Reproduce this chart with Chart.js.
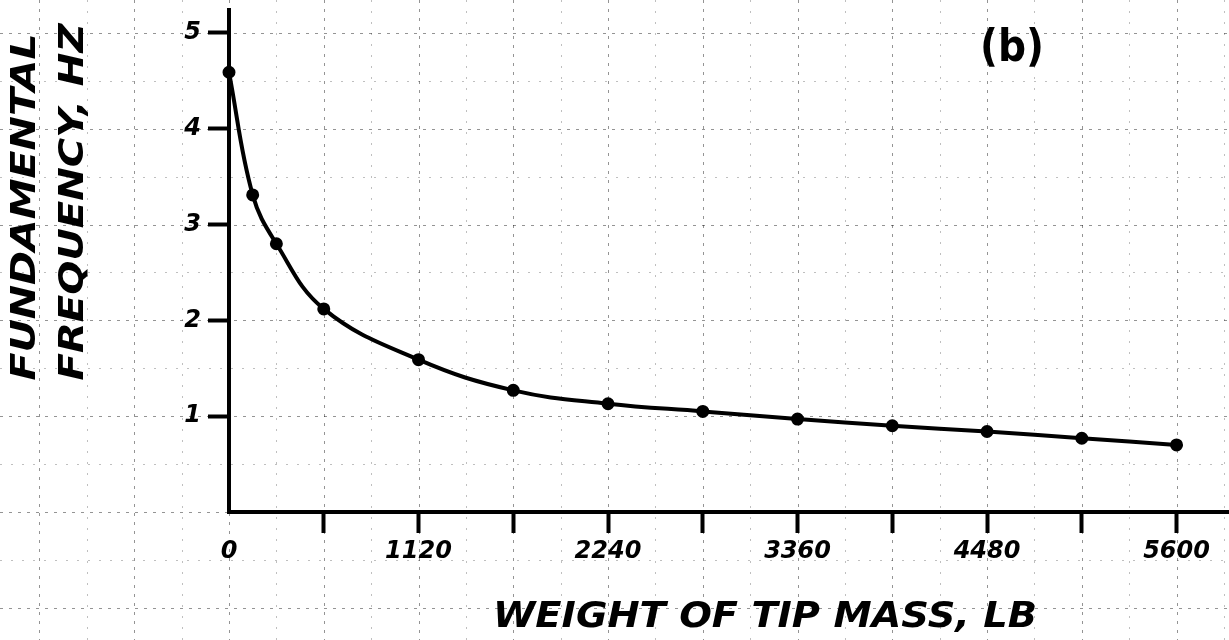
<!DOCTYPE html>
<html>
<head>
<meta charset="utf-8">
<script src="https://cdn.jsdelivr.net/npm/chart.js@4/dist/chart.umd.min.js"></script>
<style>
  html, body { margin: 0; padding: 0; background: #ffffff; }
  #wrap { width: 1229px; height: 640px; position: relative; }
</style>
</head>
<body>
<div id="wrap"><canvas id="c"></canvas></div>
<script>
// ---- data ----
const tipMassLb = [0, 140, 280, 560, 1120, 1680, 2240, 2800, 3360, 3920, 4480, 5040, 5600];
const frequencyHz = [4.59, 3.31, 2.80, 2.12, 1.59, 1.27, 1.13, 1.05, 0.97, 0.90, 0.84, 0.77, 0.70];
const xTickValues = [0, 560, 1120, 1680, 2240, 2800, 3360, 3920, 4480, 5040, 5600];
const xTickLabels = ['0', '1120', '2240', '3360', '4480', '5600'];
const yTickValues = [0, 1, 2, 3, 4, 5];
const yTickLabels = ['1', '2', '3', '4', '5'];
const yTitleLines = ['FUNDAMENTAL', 'FREQUENCY, HZ'];
const xTitleText = 'WEIGHT OF TIP MASS, LB';
const panelLabel = '(b)';

const points = tipMassLb.map((x, i) => ({ x: x, y: frequencyHz[i] }));

// graph-paper background drawn through the chart's own scales
const graphPaper = {
  id: 'graphPaper',
  beforeDraw(chart) {
    const ctx = chart.ctx, xs = chart.scales.x, ys = chart.scales.y;
    const W = chart.width, H = chart.height;
    ctx.save();
    ctx.fillStyle = '#ffffff';
    ctx.fillRect(0, 0, W, H);
    ctx.lineWidth = 1;
    for (let v = -1400; v <= 6200; v += 280) {
      const px = Math.round(xs.getPixelForValue(v)) + 0.5;
      const major = (v % 560 === 0);
      ctx.strokeStyle = major ? 'rgba(0,0,0,0.42)' : 'rgba(0,0,0,0.25)';
      ctx.setLineDash(major ? [3, 6] : [2, 9]);
      ctx.beginPath(); ctx.moveTo(px, 0); ctx.lineTo(px, H); ctx.stroke();
    }
    for (let v = -1.5; v <= 5.5; v += 0.5) {
      const py = Math.round(ys.getPixelForValue(v)) + 0.5;
      const major = (Math.abs(v - Math.round(v)) < 1e-6);
      ctx.strokeStyle = major ? 'rgba(0,0,0,0.42)' : 'rgba(0,0,0,0.25)';
      ctx.setLineDash(major ? [3, 6] : [2, 9]);
      ctx.beginPath(); ctx.moveTo(0, py); ctx.lineTo(W, py); ctx.stroke();
    }
    ctx.restore();
  }
};

function drawStretched(ctx, text, cx, cy, rot, font, width) {
  ctx.save();
  ctx.translate(cx, cy);
  ctx.rotate(rot);
  ctx.font = font;
  const w = ctx.measureText(text).width;
  ctx.scale(width / w, 1);
  ctx.textAlign = 'center';
  ctx.textBaseline = 'middle';
  ctx.fillStyle = '#000000';
  ctx.fillText(text, 0, 0);
  ctx.restore();
}

// hand-lettered titles placed relative to the chart area
const handTitles = {
  id: 'handTitles',
  afterDraw(chart) {
    const ctx = chart.ctx, a = chart.chartArea;
    const f = 'italic bold 33px "DejaVu Sans"';
    drawStretched(ctx, yTitleLines[0], 26, a.top + 197, -Math.PI / 2, f, 347);
    drawStretched(ctx, yTitleLines[1], 74, a.top + 192, -Math.PI / 2, f, 357);
    drawStretched(ctx, xTitleText, a.left + 536, a.bottom + 106, 0, 'italic bold 35px "DejaVu Sans"', 544);
    drawStretched(ctx, panelLabel, a.left + 783, a.top + 40, 0, 'bold 44px "DejaVu Sans"', 64);
  }
};

const tickFont = { family: 'DejaVu Sans', size: 24, style: 'italic', weight: 'bold' };
const hideZeroTick = (c) => (c.tick && c.tick.value === 0) ? 'rgba(0,0,0,0)' : '#000000';

new Chart(document.getElementById('c'), {
  type: 'scatter',
  data: {
    datasets: [{
      data: points,
      showLine: true,
      borderColor: '#000000',
      borderWidth: 4,
      backgroundColor: '#000000',
      pointRadius: 4.5,
      pointHoverRadius: 4.5,
      pointBackgroundColor: '#000000',
      pointBorderColor: '#000000',
      tension: 0.4,
      clip: false
    }]
  },
  plugins: [graphPaper, handTitles],
  options: {
    responsive: true,
    maintainAspectRatio: false,
    animation: false,
    layout: { autoPadding: false, padding: { top: 10, right: 0, left: 0, bottom: 0 } },
    plugins: { legend: { display: false }, tooltip: { enabled: false }, title: { display: false } },
    scales: {
      x: {
        type: 'linear',
        min: 0,
        max: 5910,
        afterBuildTicks(scale) { scale.ticks = xTickValues.map(v => ({ value: v })); },
        afterFit(scale) {
          scale.height = 128;
          scale.paddingLeft = 0; scale.paddingRight = 0;
        },
        border: { display: true, color: '#000000', width: 4 },
        grid: {
          drawOnChartArea: false,
          drawTicks: true,
          tickLength: 21,
          tickWidth: 4,
          tickColor: hideZeroTick
        },
        ticks: {
          autoSkip: false,
          maxRotation: 0,
          minRotation: 0,
          padding: 4,
          color: '#000000',
          font: tickFont,
          callback: (v) => xTickLabels.includes(String(v)) ? String(v) : ''
        }
      },
      y: {
        type: 'linear',
        min: 0,
        max: 5.24,
        afterBuildTicks(scale) { scale.ticks = yTickValues.map(v => ({ value: v })); },
        afterFit(scale) {
          scale.width = 229;
          scale.paddingTop = 0; scale.paddingBottom = 0;
        },
        border: { display: true, color: '#000000', width: 4 },
        grid: {
          drawOnChartArea: false,
          drawTicks: true,
          tickLength: 21,
          tickWidth: 4,
          tickColor: hideZeroTick
        },
        ticks: {
          autoSkip: false,
          padding: 7,
          color: '#000000',
          font: tickFont,
          callback: (v) => yTickLabels.includes(String(v)) ? String(v) : ''
        }
      }
    }
  }
});
</script>
</body>
</html>
